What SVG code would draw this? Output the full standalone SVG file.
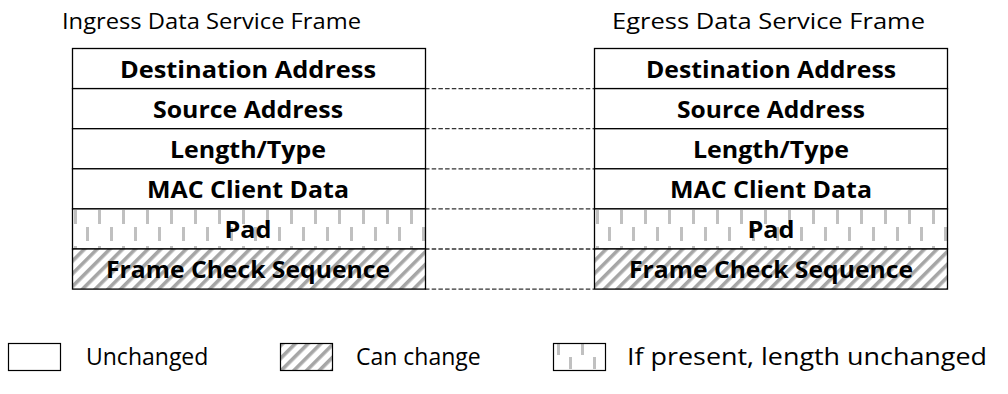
<svg xmlns="http://www.w3.org/2000/svg" width="1008" height="394" viewBox="0 0 1008 394">
<style>
.title{font-family:"Open Sans","Liberation Sans",sans-serif;font-size:22px;fill:#000}
.lbl{font-family:"Open Sans","Liberation Sans",sans-serif;font-size:23px;font-weight:bold;fill:#000;text-anchor:middle}
.leg{font-family:"Open Sans","Liberation Sans",sans-serif;font-size:23px;fill:#000}
.cell{fill:#fff;stroke:#000;stroke-width:1.3}
.pad{fill:url(#padL);stroke:#000;stroke-width:1.3}
.padR{fill:url(#padR);stroke:#000;stroke-width:1.3}
.fcs{fill:url(#hatch);stroke:#000;stroke-width:1.3}
.conn{stroke:#333;stroke-width:1.3;stroke-dasharray:4.5 2.2;fill:none}
.lbox{stroke:#000;stroke-width:1.2}
</style>
<defs>
<pattern id="hatch" patternUnits="userSpaceOnUse" width="9" height="9" patternTransform="rotate(45)">
<rect width="9" height="9" fill="#fff"/>
<rect x="0" y="0" width="3.6" height="9" fill="#a6a6a6"/>
</pattern>
<pattern id="padL" patternUnits="userSpaceOnUse" x="74" y="209" width="24" height="36">
<rect width="24" height="36" fill="#fff"/>
<rect x="0" y="1" width="3" height="14" fill="#c0c0c0"/>
<rect x="12" y="18" width="3" height="14" fill="#c0c0c0"/>
</pattern>
<pattern id="padR" patternUnits="userSpaceOnUse" x="596" y="209" width="24" height="36">
<rect width="24" height="36" fill="#fff"/>
<rect x="0" y="1" width="3" height="14" fill="#c0c0c0"/>
<rect x="12" y="18" width="3" height="14" fill="#c0c0c0"/>
</pattern>
<pattern id="padLeg" patternUnits="userSpaceOnUse" x="557" y="343" width="24" height="36">
<rect width="24" height="36" fill="#fff"/>
<rect x="0" y="1" width="3" height="11" fill="#c0c0c0"/>
<rect x="12" y="14" width="3" height="12" fill="#c0c0c0"/>
</pattern>
</defs>

<text class="title" x="62" y="29" textLength="299" lengthAdjust="spacingAndGlyphs">Ingress Data Service Frame</text>
<text class="title" x="612" y="29" textLength="313" lengthAdjust="spacingAndGlyphs">Egress Data Service Frame</text>

<g id="connectors">
<line class="conn" x1="425" y1="88.6" x2="594" y2="88.6"/>
<line class="conn" x1="425" y1="128.7" x2="594" y2="128.7"/>
<line class="conn" x1="425" y1="168.8" x2="594" y2="168.8"/>
<line class="conn" x1="425" y1="208.9" x2="594" y2="208.9"/>
<line class="conn" x1="425" y1="249" x2="594" y2="249"/>
<line class="conn" x1="425" y1="289.1" x2="594" y2="289.1"/>
</g>

<g id="ingress">
<g id="in-dest"><rect class="cell" x="72.5" y="48.5" width="353" height="40.1"/><text class="lbl" x="248" y="77.5" textLength="256" lengthAdjust="spacingAndGlyphs">Destination Address</text></g>
<g id="in-src"><rect class="cell" x="72.5" y="88.6" width="353" height="40.1"/><text class="lbl" x="248" y="117.6" textLength="190" lengthAdjust="spacingAndGlyphs">Source Address</text></g>
<g id="in-len"><rect class="cell" x="72.5" y="128.7" width="353" height="40.1"/><text class="lbl" x="248" y="157.7" textLength="156" lengthAdjust="spacingAndGlyphs">Length/Type</text></g>
<g id="in-mac"><rect class="cell" x="72.5" y="168.8" width="353" height="40.1"/><text class="lbl" x="248" y="197.8" textLength="202" lengthAdjust="spacingAndGlyphs">MAC Client Data</text></g>
<g id="in-pad"><rect class="pad" x="72.5" y="208.9" width="353" height="40.1"/><text class="lbl" x="248" y="237.9" textLength="47" lengthAdjust="spacingAndGlyphs">Pad</text></g>
<g id="in-fcs"><rect class="fcs" x="72.5" y="249" width="353" height="40.1"/><text class="lbl" x="248" y="278" textLength="284" lengthAdjust="spacingAndGlyphs">Frame Check Sequence</text></g>
</g>

<g id="egress">
<g id="eg-dest"><rect class="cell" x="594.5" y="48.5" width="353" height="40.1"/><text class="lbl" x="771" y="77.5" textLength="250" lengthAdjust="spacingAndGlyphs">Destination Address</text></g>
<g id="eg-src"><rect class="cell" x="594.5" y="88.6" width="353" height="40.1"/><text class="lbl" x="771" y="117.6" textLength="188" lengthAdjust="spacingAndGlyphs">Source Address</text></g>
<g id="eg-len"><rect class="cell" x="594.5" y="128.7" width="353" height="40.1"/><text class="lbl" x="771" y="157.7" textLength="156" lengthAdjust="spacingAndGlyphs">Length/Type</text></g>
<g id="eg-mac"><rect class="cell" x="594.5" y="168.8" width="353" height="40.1"/><text class="lbl" x="771" y="197.8" textLength="202" lengthAdjust="spacingAndGlyphs">MAC Client Data</text></g>
<g id="eg-pad"><rect class="padR" x="594.5" y="208.9" width="353" height="40.1"/><text class="lbl" x="771" y="237.9" textLength="47" lengthAdjust="spacingAndGlyphs">Pad</text></g>
<g id="eg-fcs"><rect class="fcs" x="594.5" y="249" width="353" height="40.1"/><text class="lbl" x="771" y="278" textLength="284" lengthAdjust="spacingAndGlyphs">Frame Check Sequence</text></g>
</g>

<g id="legend">
<g id="leg-unchanged"><rect class="lbox" x="8.5" y="343.5" width="52" height="27" fill="#fff"/><text class="leg" x="86" y="364.5">Unchanged</text></g>
<g id="leg-change"><rect class="lbox" x="280.5" y="343.5" width="52" height="27" fill="url(#hatch)"/><text class="leg" x="356" y="364.5">Can change</text></g>
<g id="leg-present"><rect class="lbox" x="553.5" y="343.5" width="52" height="27" fill="url(#padLeg)"/><text class="leg" x="627" y="364.5" textLength="360" lengthAdjust="spacingAndGlyphs">If present, length unchanged</text></g>
</g>
</svg>
